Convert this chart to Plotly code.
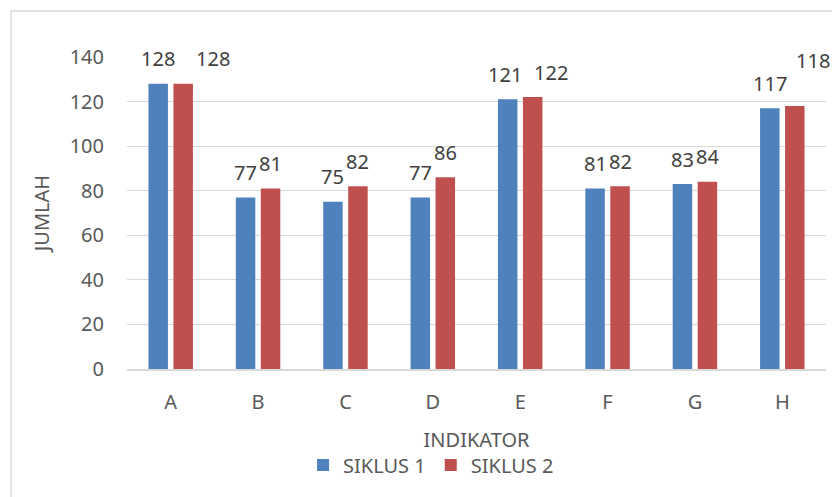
import plotly.graph_objects as go

categories = ["A", "B", "C", "D", "E", "F", "G", "H"]
siklus1 = [128, 77, 75, 77, 121, 81, 83, 117]
siklus2 = [128, 81, 82, 86, 122, 82, 84, 118]
series_names = ["SIKLUS 1", "SIKLUS 2"]
tick_vals = [0, 20, 40, 60, 80, 100, 120, 140]

# label offsets (px) relative to default position above each bar
extra_dx1 = [0, 0, 0, 0, -3, 0, 0, 0]
extra_dx2 = [30, 0, 0, 0, 18, 0, 0, 18]
extra_dy1 = [0, 0, 0, 0, 0, 0, 0, 0]
extra_dy2 = [0, 0, 0, 0, 0, 0, 0, 21]

BLUE = "#4F81BD"
RED = "#C0504D"
FONT = "Noto Sans"

fig = go.Figure()
fig.add_trace(go.Bar(x=categories, y=siklus1, name=series_names[0],
                     marker=dict(color=BLUE, line=dict(width=0))))
fig.add_trace(go.Bar(x=categories, y=siklus2, name=series_names[1],
                     marker=dict(color=RED, line=dict(width=0))))

annotations = []
for i, c in enumerate(categories):
    annotations.append(dict(x=c, y=siklus1[i], text=str(siklus1[i]), showarrow=False,
                            xshift=-12.5 + extra_dx1[i], yshift=25 + extra_dy1[i],
                            yanchor="middle", font=dict(size=20, color="#404040", family=FONT)))
    annotations.append(dict(x=c, y=siklus2[i], text=str(siklus2[i]), showarrow=False,
                            xshift=12.5 + extra_dx2[i], yshift=25 + extra_dy2[i],
                            yanchor="middle", font=dict(size=20, color="#404040", family=FONT)))

# page body has an 8px margin, so the figure is offset by 8px on screen
fig.update_layout(
    width=840, height=497,
    template="none",
    paper_bgcolor="white", plot_bgcolor="white",
    margin=dict(l=119, r=22, t=49, b=136, autoexpand=False),
    barmode="group", bargap=0.428, bargroupgap=0.22,
    font=dict(family=FONT, size=20, color="#595959"),
    showlegend=True,
    legend=dict(orientation="h", x=0.435, xanchor="center", y=-0.308, yanchor="middle",
                font=dict(size=20, color="#595959"), traceorder="normal",
                itemwidth=30, bgcolor="rgba(0,0,0,0)"),
    annotations=annotations,
    shapes=[dict(type="rect", xref="paper", yref="paper",
                 x0=(11 - 127) / 699, x1=(845 - 127) / 699,
                 y0=(369 - 505) / 312, y1=(369 - 11) / 312,
                 line=dict(color="#D9D9D9", width=1.3), fillcolor="rgba(0,0,0,0)",
                 layer="below")],
)
fig.update_yaxes(range=[0, 140], tickvals=tick_vals, showgrid=True, gridcolor="#D9D9D9",
                 gridwidth=1, zeroline=False, showline=False, ticks="",
                 ticklabelstandoff=22, automargin=False,
                 tickfont=dict(size=20, color="#595959"),
                 title=dict(text="JUMLAH", font=dict(size=20, color="#595959"), standoff=14))
fig.update_xaxes(range=[-0.5, len(categories) - 0.5], showgrid=False, showline=True,
                 linecolor="#D9D9D9", linewidth=1.5,
                 ticks="", ticklabelstandoff=14, automargin=False,
                 tickfont=dict(size=20, color="#595959"),
                 title=dict(text="INDIKATOR", font=dict(size=20, color="#595959"), standoff=19))

fig.write_html("out.html")
